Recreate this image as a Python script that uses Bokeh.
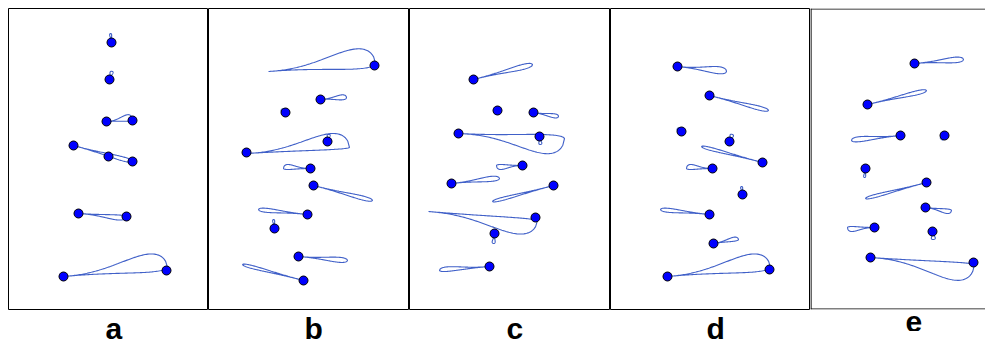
import numpy as np
from bokeh.plotting import figure
from bokeh.layouts import row
from bokeh.models import Range1d, Span
from bokeh.embed import file_html
from bokeh.resources import INLINE

# Panel labels and panel frame widths (px)
labels = ["a", "b", "c", "d", "e"]
frame_w = [200, 201, 201, 200, 175]
frame_h = 301

# ---- data read off the picture (panel-local coords, y measured downward) ----
# panel a
a_dot_x = [103, 101, 98, 124, 65, 100, 124, 70, 118, 55, 158]
a_dot_y = [34, 71, 113, 112, 137, 148, 153, 205, 208, 268, 262]
a_px = [103, 101, 98, 65, 70, 55]
a_py = [34, 71, 113, 137, 205, 268]
a_qx = [102, 104, 124, 124, 118, 159]
a_qy = [25, 63, 112, 153, 208, 259]
a_wu = [1, 2, 6, 2, 1, 15]
a_wd = [1, 1, 0.5, 2, 4, 3]

# panel b
b_dot_x = [166, 112, 77, 38, 119, 102, 105, 99, 66, 90, 95]
b_dot_y = [57, 91, 104, 144, 133, 160, 177, 206, 220, 248, 272]
b_px = [60, 112, 77, 38, 119, 102, 105, 99, 66, 90, 95]
b_py = [63, 91, 104, 145, 133, 160, 177, 206, 220, 248, 272]
b_qx = [167, 138, 73, 141, 121, 75, 164, 50, 65, 139, 34]
b_qy = [55, 89, 101, 139, 126, 160, 192, 201, 211, 252, 256]
b_wu = [16, 3, 1.5, 15, 2, 4, 2, 2, 1, 2.5, 1.5]
b_wd = [4, 2, 1.5, 1, 1, 1, 2, 2, 1, 2.5, 1.5]

# panel c
c_dot_x = [64, 88, 124, 49, 130, 113, 42, 144, 126, 85, 80]
c_dot_y = [71, 102, 104, 125, 128, 157, 175, 177, 209, 225, 258]
c_px = [64, 88, 124, 49, 130, 113, 42, 144, 19, 85, 80]
c_py = [71, 102, 104, 125, 128, 157, 175, 177, 203, 225, 258]
c_qx = [123, 85, 149, 155, 131, 87, 90, 83, 128, 84, 30]
c_qy = [56, 105, 108, 130, 136, 157, 170, 193, 212, 235, 262]
c_wu = [2.5, 1.5, 2, 3, 1.5, 1, 3, 1.5, 1, 1.5, 3]
c_wd = [2.5, 1.5, 2, 16, 1.5, 4, 2, 1.5, 15, 1.5, 1.5]

# panel d
d_dot_x = [67, 99, 71, 119, 152, 102, 132, 99, 103, 57, 159]
d_dot_y = [58, 87, 123, 133, 154, 160, 186, 206, 235, 268, 261]
d_px = [67, 99, 71, 119, 152, 102, 132, 99, 103, 57]
d_py = [58, 87, 123, 133, 154, 160, 186, 206, 235, 268]
d_qx = [116, 158, 67, 122, 91, 76, 131, 50, 128, 160]
d_qy = [63, 102, 120, 126, 138, 160, 178, 201, 231, 259]
d_wu = [4, 2, 1.5, 2, 1.5, 4, 1, 2, 3, 15]
d_wd = [3, 2, 1.5, 1.5, 1.5, 1, 1, 2, 1, 3]

# panel e
e_dot_x = [104, 57, 90, 134, 55, 116, 115, 64, 122, 60, 163]
e_dot_y = [55, 96, 127, 127, 160, 174, 199, 219, 223, 249, 254]
e_px = [104, 57, 90, 134, 55, 116, 115, 64, 122, 60]
e_py = [55, 96, 127, 127, 160, 174, 199, 219, 223, 249]
e_qx = [153, 116, 41, 131, 54, 55, 141, 37, 123, 164]
e_qy = [51, 82, 132, 131, 169, 190, 202, 219, 231, 256]
e_wu = [3, 2, 3, 2, 1, 1.5, 1, 1, 2, 1]
e_wd = [2.5, 2, 2, 1.5, 1, 1.5, 3.5, 4, 2, 17]

panels = [
    (a_dot_x, a_dot_y, a_px, a_py, a_qx, a_qy, a_wu, a_wd),
    (b_dot_x, b_dot_y, b_px, b_py, b_qx, b_qy, b_wu, b_wd),
    (c_dot_x, c_dot_y, c_px, c_py, c_qx, c_qy, c_wu, c_wd),
    (d_dot_x, d_dot_y, d_px, d_py, d_qx, d_qy, d_wu, d_wd),
    (e_dot_x, e_dot_y, e_px, e_py, e_qx, e_qy, e_wu, e_wd),
]
label_offsets = [97, 96, 97, 96, 95]


def loop_path(px, py, qx, qy, wu, wd, k=2.5, n=80):
    t = np.linspace(0, 1, n)
    f = t ** k * np.sqrt(1 - t)
    f = f / f.max()
    dx, dy = qx - px, qy - py
    L = np.hypot(dx, dy)
    ux, uy = dx / L, dy / L
    nx, ny = uy, -ux
    # make n point "up" on screen (negative y, since y axis runs downward)
    if ny > 1e-6 or (abs(ny) <= 1e-6 and nx > 0):
        nx, ny = -nx, -ny
    cx = px + dx * t
    cy = py + dy * t
    ux_ = cx + wu * f * nx
    uy_ = cy + wu * f * ny
    lx_ = cx - wd * f * nx
    ly_ = cy - wd * f * ny
    xs = np.concatenate([ux_, lx_[::-1]])
    ys = np.concatenate([uy_, ly_[::-1]])
    return list(xs), list(ys)


figs = []
for i, (lab, fw, data) in enumerate(zip(labels, frame_w, panels)):
    dx_, dy_, px, py, qx, qy, wu, wd = data
    p = figure(frame_width=fw, frame_height=frame_h,
               x_range=Range1d(0, fw), y_range=Range1d(frame_h, 0),
               output_backend="svg", toolbar_location=None,
               min_border=0, min_border_top=8,
               min_border_left=8 if i == 0 else 0,
               title=lab, title_location="below")
    p.axis.visible = False
    p.grid.visible = False
    p.background_fill_color = "white"
    p.border_fill_color = "white"
    p.title.text_font = "Liberation Sans"
    p.title.text_font_style = "bold"
    p.title.text_font_size = "30px"
    p.title.align = "left"
    p.title.offset = label_offsets[i]
    p.title.standoff = 0
    p.title.text_line_height = 1.0
    p.title.text_color = "black"
    if i < 4:
        p.outline_line_color = "black"
        p.outline_line_width = 1
    else:
        # last panel is open on the right (cut by the picture edge)
        p.outline_line_color = None
        p.add_layout(Span(location=0.5, dimension="width", line_color="black", line_width=1.2))
        p.add_layout(Span(location=frame_h - 0.5, dimension="width", line_color="black", line_width=1.2))
        p.add_layout(Span(location=0.5, dimension="height", line_color="black", line_width=1.2))

    xs_all, ys_all = [], []
    for j in range(len(px)):
        xs, ys = loop_path(px[j], py[j], qx[j], qy[j], wu[j], wd[j])
        xs_all.append(xs)
        ys_all.append(ys)
    p.multi_line(xs_all, ys_all, line_color="#4060c8", line_width=1.1)
    p.scatter(dx_, dy_, size=9, fill_color="#0000ff", line_color="black", line_width=1)
    figs.append(p)

layout = row(*figs, spacing=0)
open("out.html", "w").write(file_html(layout, INLINE))
